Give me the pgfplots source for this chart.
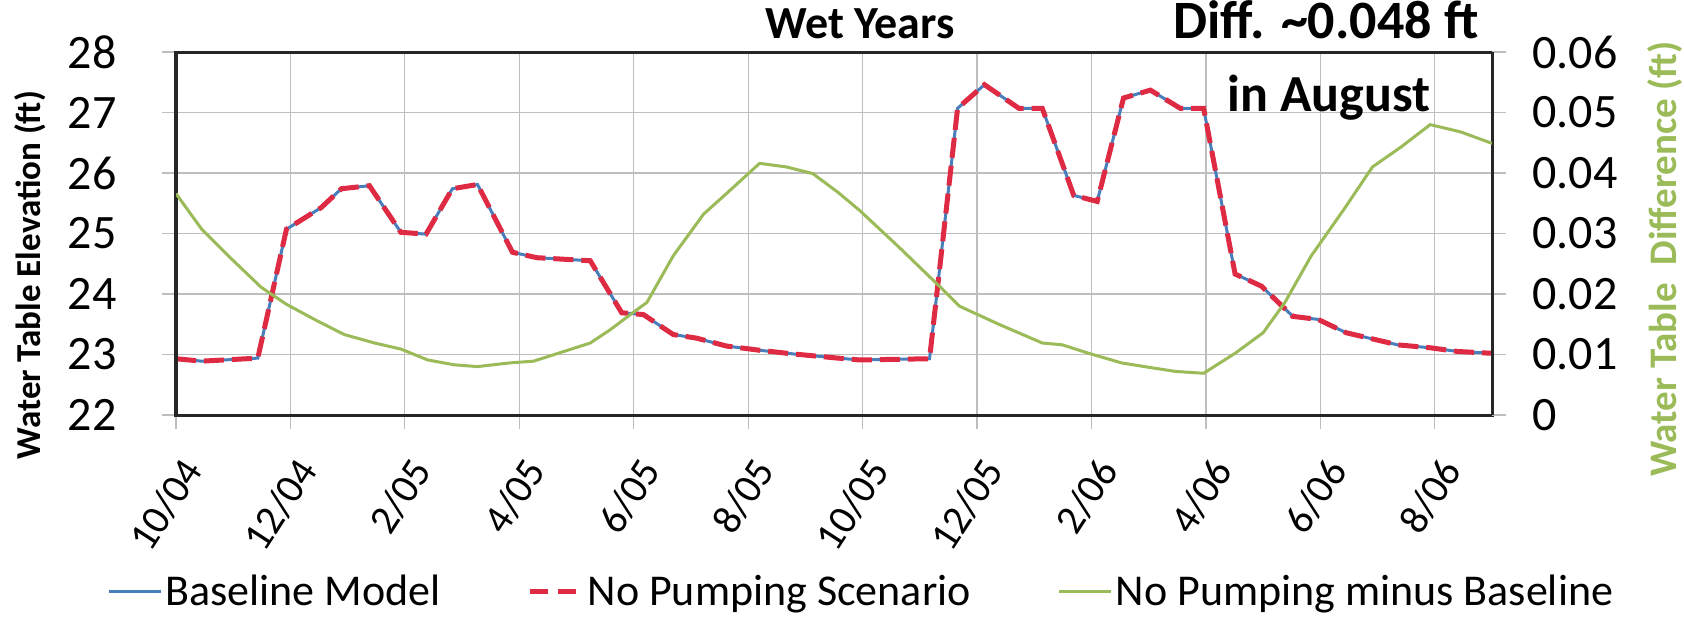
\documentclass[border=0pt]{standalone}
\usepackage{fontspec}
\setmainfont{Carlito}
\usepackage{pgfplots}
\pgfplotsset{compat=1.18}
\definecolor{cblue}{RGB}{74,126,187}
\definecolor{cred}{RGB}{222,42,66}
\definecolor{cgreen}{RGB}{155,187,89}
\definecolor{cgrid}{RGB}{190,190,190}
\begin{document}
\begin{tikzpicture}
\path[use as bounding box] (-88bp,-101.5bp) rectangle (754bp,207.5bp);
\begin{axis}[
  at={(0,0)}, anchor=south west,
  scale only axis, width=658bp, height=181.5bp,
  xmin=0, xmax=23, ymin=22, ymax=28,
  xtick={0,2,4,6,8,10,12,14,16,18,20,22},
  xticklabels={10/04,12/04,2/05,4/05,6/05,8/05,10/05,12/05,2/06,4/06,6/06,8/06},
  ytick={22,23,24,25,26,27,28},
  yticklabels={22,23,24,25,26,27,28},
  scaled ticks=false,
  /pgf/number format/assume math mode=true,
  xtick pos=bottom, ytick pos=left,
  tick align=outside, major tick length=7bp,
  tick style={cgrid, line width=0.6bp},
  grid=major, major grid style={cgrid, line width=0.6bp},
  axis line style={line width=1.5bp, black!85},
  yticklabel style={font=\fontsize{24bp}{24bp}\selectfont, inner sep=0pt, anchor=east, xshift=-22.5bp},
  xticklabel style={font=\fontsize{20.5bp}{20.5bp}\selectfont, inner sep=0pt, xshift=8.5bp, yshift=-17bp, rotate=57, anchor=east},
]
\addplot[cblue, line width=1.5bp] coordinates {
(0,22.93) (0.45,22.89) (1.43,22.94) (1.93,25.07) (2.54,25.43) (2.89,25.74)
(3.38,25.79) (3.93,25.02) (4.37,24.99) (4.83,25.74) (5.27,25.81) (5.88,24.69)
(6.31,24.60) (7.24,24.55) (7.79,23.69) (8.17,23.66) (8.69,23.33) (9.10,23.27)
(9.62,23.14) (10.2,23.07) (10.78,23.01) (11.57,22.94) (11.95,22.91) (13.17,22.93)
(13.66,27.07) (14.13,27.46) (14.73,27.07) (15.14,27.07) (15.69,25.63) (16.10,25.53)
(16.56,27.24) (17.03,27.37) (17.55,27.07) (17.96,27.07) (18.51,24.33) (18.97,24.13)
(19.52,23.63) (19.96,23.58) (20.45,23.36) (21.35,23.16) (21.93,23.11) (22.4,23.05)
(23,23.02)};
\addplot[cred, line width=2.5bp, dash pattern=on 10bp off 4bp] coordinates {
(0,22.93) (0.45,22.89) (1.43,22.94) (1.93,25.07) (2.54,25.43) (2.89,25.74)
(3.38,25.79) (3.93,25.02) (4.37,24.99) (4.83,25.74) (5.27,25.81) (5.88,24.69)
(6.31,24.60) (7.24,24.55) (7.79,23.69) (8.17,23.66) (8.69,23.33) (9.10,23.27)
(9.62,23.14) (10.2,23.07) (10.78,23.01) (11.57,22.94) (11.95,22.91) (13.17,22.93)
(13.66,27.07) (14.13,27.46) (14.73,27.07) (15.14,27.07) (15.69,25.63) (16.10,25.53)
(16.56,27.24) (17.03,27.37) (17.55,27.07) (17.96,27.07) (18.51,24.33) (18.97,24.13)
(19.52,23.63) (19.96,23.58) (20.45,23.36) (21.35,23.16) (21.93,23.11) (22.4,23.05)
(23,23.02)};
\end{axis}
\begin{axis}[
  at={(0,0)}, anchor=south west,
  scale only axis, width=658bp, height=181.5bp,
  xmin=0, xmax=23, ymin=0, ymax=0.06,
  hide x axis,
  ytick={0,0.01,0.02,0.03,0.04,0.05,0.06},
  yticklabels={0,0.01,0.02,0.03,0.04,0.05,0.06},
  scaled ticks=false,
  /pgf/number format/assume math mode=true,
  ytick pos=right, yticklabel pos=right,
  tick align=outside, major tick length=7bp,
  tick style={cgrid, line width=0.6bp},
  axis line style={line width=1.5bp, black!85},
  yticklabel style={font=\fontsize{24bp}{24bp}\selectfont, inner sep=0pt, anchor=west, xshift=13bp},
  legend columns=3,
  legend style={at={(axis description cs:-0.0524,-0.4876)}, anchor=west, draw=none, fill=none,
    inner sep=0pt, font=\fontsize{22bp}{22bp}\selectfont,
    nodes={inner xsep=1.5bp, inner ysep=0pt},
    /tikz/every even column/.append style={column sep=42bp}},
  legend image code/.code={\draw[#1] (0bp,0bp) -- (26bp,0bp);},
]
\addlegendimage{cblue, line width=1.5bp}
\addlegendentry{Baseline Model}
\addlegendimage{cred, line width=2.5bp, dash pattern=on 9bp off 5bp}
\addlegendentry{No Pumping Scenario}
\addplot[cgreen, line width=1.5bp] coordinates {
(0,0.0366) (0.45,0.0307) (0.97,0.0258) (1.49,0.0211) (1.93,0.0183) (2.42,0.0158)
(2.94,0.0133) (3.47,0.0119) (3.93,0.0109) (4.40,0.0091) (4.86,0.0083) (5.27,0.0080)
(5.82,0.0086) (6.25,0.0089) (7.24,0.0119) (7.59,0.0141) (7.94,0.0166) (8.23,0.0186)
(8.69,0.0263) (9.22,0.0332) (9.62,0.0366) (10.2,0.0416) (10.67,0.0410) (11.13,0.0399)
(11.57,0.0368) (11.95,0.0338) (12.64,0.0277) (13.34,0.0213) (13.69,0.0180) (14.38,0.0150)
(15.14,0.0119) (15.49,0.0116) (15.95,0.0102) (16.53,0.0086) (17.06,0.0078) (17.47,0.0072)
(17.96,0.0069) (18.51,0.0102) (19.0,0.0136) (19.38,0.0186) (19.84,0.0263) (20.42,0.0341)
(20.91,0.0410) (21.41,0.0443) (21.92,0.0480) (22.45,0.0468) (23,0.0449)};
\addlegendentry{No Pumping minus Baseline}
\end{axis}
\node[anchor=base, font=\bfseries\fontsize{23bp}{23bp}\selectfont] at (342bp,188bp) {Wet Years};
\node[anchor=base, font=\bfseries\fontsize{27bp}{27bp}\selectfont] at (575bp,188bp) {Diff. \textasciitilde0.048 ft};
\node[anchor=base, font=\bfseries\fontsize{26bp}{26bp}\selectfont] at (576.5bp,151.5bp) {in August};
\node[rotate=90, font=\bfseries\fontsize{17.5bp}{17.5bp}\selectfont] at (-73bp,70bp) {Water Table Elevation (ft)};
\node[rotate=90, text=cgreen, font=\bfseries\fontsize{19.5bp}{19.5bp}\selectfont] at (744.5bp,78bp) {Water Table\ \ Difference (ft)};
\end{tikzpicture}
\end{document}
